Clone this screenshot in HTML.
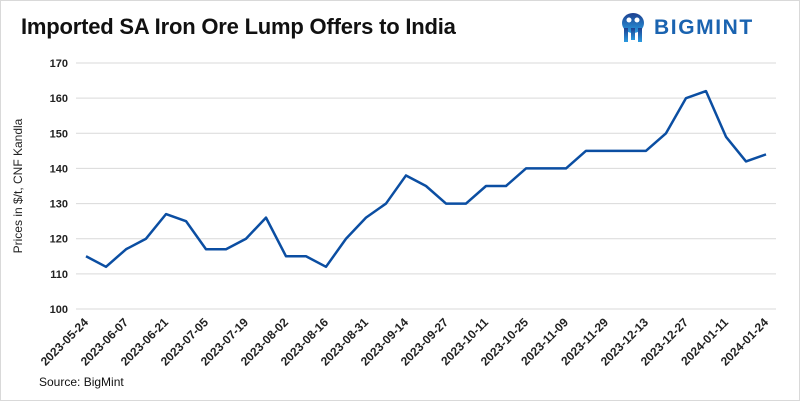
<!DOCTYPE html>
<html><head><meta charset="utf-8"><style>
body{margin:0;background:#fff;}
#wrap{position:relative;width:798px;height:399px;border:1px solid #d9d9d9;background:#fff;font-family:"Liberation Sans",sans-serif;overflow:hidden}
#title{position:absolute;left:20px;top:13px;font-size:22px;font-weight:bold;color:#111;letter-spacing:-0.2px}
#logo{position:absolute;left:620px;top:11px;display:flex;align-items:center}
#logo span{font-size:21px;font-weight:bold;color:#1a63b0;letter-spacing:1.6px;margin-left:9px}
#src{position:absolute;left:38px;top:374px;font-size:12px;color:#111}
</style></head><body>
<div id="wrap">
<div id="title">Imported SA Iron Ore Lump Offers to India</div>
<div id="logo">
<svg width="24" height="32" viewBox="0 0 24 32"><defs><linearGradient id="g" x1="0" y1="0" x2="0" y2="1"><stop offset="0" stop-color="#1c3f8f"/><stop offset="1" stop-color="#2a9be0"/></linearGradient></defs><ellipse cx="12" cy="11" rx="11" ry="10" fill="url(#g)"/><circle cx="8" cy="8" r="2.5" fill="#fff"/><circle cx="16" cy="8" r="2.5" fill="#fff"/><rect x="3" y="16" width="4" height="14" fill="url(#g)"/><rect x="17" y="16" width="4" height="14" fill="url(#g)"/><rect x="10" y="16" width="4" height="12" fill="url(#g)"/></svg>
<span>BIGMINT</span></div>
<svg id="chart" width="798" height="399" style="position:absolute;left:0;top:0"></svg>
<div id="src">Source: BigMint</div>
</div>
<script>
const dates=["2023-05-24","2023-05-31","2023-06-07","2023-06-14","2023-06-21","2023-06-28","2023-07-05","2023-07-12","2023-07-19","2023-07-26","2023-08-02","2023-08-09","2023-08-16","2023-08-23","2023-08-31","2023-09-07","2023-09-14","2023-09-21","2023-09-27","2023-10-04","2023-10-11","2023-10-18","2023-10-25","2023-11-01","2023-11-09","2023-11-22","2023-11-29","2023-12-06","2023-12-13","2023-12-20","2023-12-27","2024-01-04","2024-01-11","2024-01-18","2024-01-24"];
const prices=[115,112,117,120,127,125,117,117,120,126,115,115,112,120,126,130,138,135,130,130,135,135,140,140,140,145,145,145,145,150,160,162,149,142,144];
const yTicks=[100,110,120,130,140,150,160,170];
const svg=document.getElementById('chart');
const NS='http://www.w3.org/2000/svg';
const x0=85,dx=20,yBase=308,yTop=62,yMin=100,yMax=170;
const X=i=>x0+i*dx;
const Y=v=>yBase-(v-yMin)/(yMax-yMin)*(yBase-yTop);
function mk(t,a){const e=document.createElementNS(NS,t);for(const k in a)e.setAttribute(k,a[k]);svg.appendChild(e);return e;}
yTicks.forEach(v=>{
 const l=mk('line',{x1:75,x2:775,y1:Y(v),y2:Y(v),stroke:'#d9d9d9','stroke-width':1});
 
 
 const t=mk('text',{x:67,y:Y(v)+4,'text-anchor':'end','font-size':11,'font-weight':'bold',fill:'#222'});
 t.textContent=v;
 
 
});
dates.forEach((d,i)=>{
 if(i%2)return;
 const t=mk('text',{x:X(i)+3,y:322,'text-anchor':'end','font-size':12,'font-weight':'bold',fill:'#222',transform:`rotate(-45 ${X(i)+3} 322)`});
 t.textContent=d;
 
 
});
const yt=mk('text',{x:0,y:0,'text-anchor':'middle','font-size':12,fill:'#222',transform:`translate(21 ${(yBase+yTop)/2}) rotate(-90)`});
yt.textContent='Prices in $/t, CNF Kandla';


const p=mk('polyline',{points:prices.map((v,i)=>X(i)+','+Y(v)).join(' '),fill:'none',stroke:'#0b4ea2','stroke-width':2.5,'stroke-linejoin':'round'});


</script>
</body></html>
